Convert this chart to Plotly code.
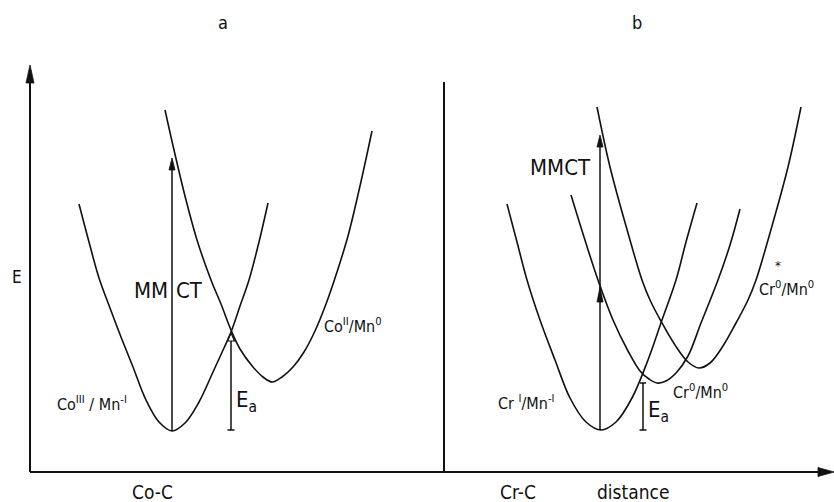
import plotly.graph_objects as go

W, H = 834, 502

# ---- potential-energy curves (distance, energy) ----
coIII_x = [79, 89, 99, 110, 121, 133, 146, 159, 172, 185, 199, 213, 224, 231, 240, 249, 259, 268]
coIII_E = [298, 260, 224, 194, 165, 135, 102, 80, 71, 79, 100, 130, 154, 170, 196, 222, 260, 299]

coII_x = [165, 174, 186, 197, 211, 221, 231, 240, 253, 263, 272, 282, 293, 304, 315, 326, 337, 348, 360, 372]
coII_E = [392, 352, 302, 262, 222, 198, 172, 153, 135, 125, 120, 125, 135, 150, 171, 198, 230, 266, 316, 371]

crI_x = [507, 517, 527, 540, 555, 570, 586, 601, 616, 632, 648, 662, 676, 686, 697]
crI_E = [298, 260, 222, 182, 142, 104, 80, 72, 80, 104, 142, 182, 222, 260, 299]

cr0_x = [571, 584, 598, 613, 628, 640, 649, 657, 666, 676, 688, 701, 718, 730, 740]
cr0_E = [307, 265, 222, 182, 151, 131, 123, 119, 121, 129, 146, 179, 222, 257, 293]

cr0s_x = [597, 610, 626, 642, 650, 662, 675, 688, 699, 710, 723, 736, 748, 756, 772, 788, 801]
cr0s_E = [395, 335, 276, 222, 202, 179, 157, 140, 134, 139, 156, 179, 202, 222, 276, 335, 395]

# ---- axes (frame) ----
yaxis_x = 30
xaxis_E = 30
yaxis_top = 437
xaxis_end = 834
midaxis_x = 444
midaxis_top = 420

# ---- transitions ----
mmct_x = [172, 600]
mmct_base = [71, 72]
mmct_tip = [344, 367]
mmct_mid_head = 215          # second arrowhead on panel b

ea_x = [231, 643]
ea_bottom = [72, 72]
ea_top = [169, 119]

BLACK = "#111111"
FONT = "DejaVu Sans Condensed, Liberation Sans, Arial"

fig = go.Figure()


def line(xs, ys, width=1.5, shape="linear"):
    fig.add_trace(go.Scatter(x=xs, y=ys, mode="lines", hoverinfo="skip",
                             line=dict(color=BLACK, width=width, shape=shape)))


def head(tx, ty, ux, uy, length, width, filled=True, lw=0.8):
    bx, by = tx - ux * length, ty - uy * length
    px, py = -uy, ux
    xs = [tx, bx + px * width / 2, bx - px * width / 2, tx]
    ys = [ty, by + py * width / 2, by - py * width / 2, ty]
    fig.add_trace(go.Scatter(x=xs, y=ys, mode="lines", hoverinfo="skip",
                             fill="toself" if filled else "none",
                             fillcolor=BLACK if filled else None,
                             line=dict(color=BLACK, width=lw)))


# curves
for xs, es in [(coIII_x, coIII_E), (coII_x, coII_E), (crI_x, crI_E),
               (cr0_x, cr0_E), (cr0s_x, cr0s_E)]:
    line(xs, es, width=1.6, shape="spline")

# frame axes
line([yaxis_x, yaxis_x], [xaxis_E, yaxis_top - 10], width=2)
head(yaxis_x, yaxis_top, 0, 1, 18, 8)
line([yaxis_x, xaxis_end - 10], [xaxis_E, xaxis_E], width=2)
head(xaxis_end, xaxis_E, 1, 0, 16, 9)
line([midaxis_x, midaxis_x], [xaxis_E, midaxis_top], width=2)

# MMCT arrows
for x, b, t in zip(mmct_x, mmct_base, mmct_tip):
    line([x, x], [b, t - 5], width=1.5)
    head(x, t, 0, 1, 12, 6)
head(mmct_x[1], mmct_mid_head, 0, 1, 15, 6)

# Ea bars
for i, (x, b, t) in enumerate(zip(ea_x, ea_bottom, ea_top)):
    line([x - 3.5, x + 3.5], [b, b], width=1.5)
    if i == 0:
        line([x, x], [b, t - 8], width=1.5)
        head(x, t, 0, 1, 8, 7, filled=False, lw=1.2)
    else:
        line([x, x], [b, t], width=1.5)
        line([x - 3, x + 3], [t, t], width=1.5)

# ---- text ----
labels = [
    ("a", 223, 480, "center", 18),
    ("b", 637, 480, "center", 18),
    ("E", 17, 225, "center", 17),
    ("Co-C", 152, 10, "center", 19),
    ("Cr-C", 518, 10, "center", 19),
    ("distance", 633, 10, "center", 19),
    ("MM", 170, 212, "right", 22),
    ("CT", 174, 212, "left", 22),
    ("MMCT", 560, 335, "center", 22),
    ("E<sub>a</sub>", 234, 101, "left", 22),
    ("E<sub>a</sub>", 646, 91, "left", 22),
    ("Co<sup>III</sup> / Mn<sup>-I</sup>", 55, 99, "left", 16),
    ("Co<sup>II</sup>/Mn<sup>0</sup>", 322, 177, "left", 16),
    ("Cr <sup>I</sup>/Mn<sup>-I</sup>", 496, 100, "left", 16),
    ("Cr<sup>0</sup>/Mn<sup>0</sup>", 671, 111, "left", 16),
    ("Cr<sup>0</sup>/Mn<sup>0</sup>", 757, 214, "left", 16),
    ("*", 778, 237, "center", 13),
]
for txt, x, y, anc, size in labels:
    fig.add_annotation(x=x, y=y, xref="x", yref="y", text=txt, showarrow=False,
                       xanchor=anc, yanchor="middle",
                       font=dict(family=FONT, size=size, color=BLACK))

fig.update_layout(
    width=W, height=H, margin=dict(l=0, r=0, t=0, b=0),
    paper_bgcolor="white", plot_bgcolor="white", showlegend=False,
    xaxis=dict(range=[0, W], visible=False, fixedrange=True),
    yaxis=dict(range=[0, H], visible=False, fixedrange=True),
)

fig.write_html("out.html", config={"displayModeBar": False},
               post_script="document.body.style.margin='0px';")
